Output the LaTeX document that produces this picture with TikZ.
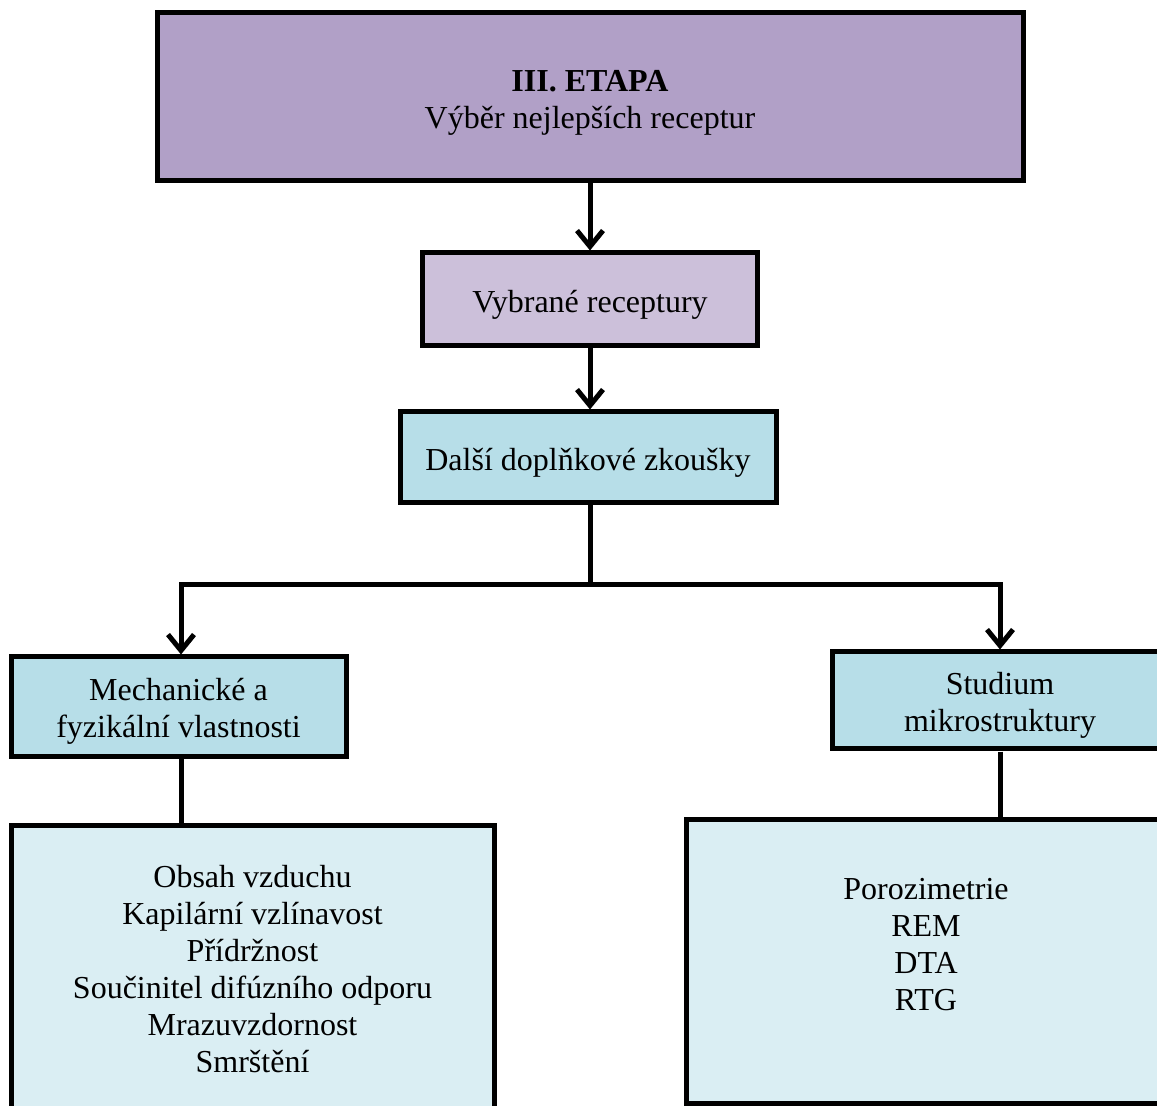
\documentclass[tikz,border=0pt]{standalone}
\usepackage{fontspec}
\setmainfont{Liberation Serif}
\usetikzlibrary{arrows.meta}
\definecolor{etapa}{HTML}{B1A0C7}
\definecolor{vybr}{HTML}{CCC0DA}
\definecolor{zkous}{HTML}{B7DEE8}
\definecolor{seznam}{HTML}{DAEEF3}
\newcommand{\nahoru}{\rule{0pt}{16pt}}
\tikzset{
  popis/.style={align=center, inner sep=0pt, font=\fontsize{16}{18.5}\selectfont},
  box/.style={popis, draw, line width=2.5pt, rectangle},
  spoj/.style={line width=2.5pt},
  sipka/.style={spoj, -{Straight Barb[length=8pt,width=13pt,line width=2.5pt]}}
}
\begin{document}
\begin{tikzpicture}[x=0.5pt,y=-0.5pt]
\useasboundingbox (0,0) rectangle (1157,1106);
\clip (0,0) rectangle (1157,1106);
\node[box, fill=etapa, minimum width=433pt, minimum height=84pt] (etapa) at (590,97)
  {\nahoru\textbf{III. ETAPA}\\Výběr nejlepších receptur};
\node[box, fill=vybr, minimum width=167.5pt, minimum height=46.5pt] (vybr) at (590,299.5)
  {\nahoru Vybrané receptury};
\node[box, fill=zkous, minimum width=188pt, minimum height=45.5pt] (dalsi) at (588,457.5)
  {\nahoru Další doplňkové zkoušky};
\node[box, fill=zkous, minimum width=167.5pt, minimum height=49.5pt] (mech) at (178.5,706.5)
  {\nahoru Mechanické a\\fyzikální vlastnosti};
\node[box, fill=zkous, minimum width=168pt, minimum height=48.5pt] (stud) at (1000,700.5)
  {\nahoru Studium\\mikrostruktury};
% bottom boxes, text set apart
\node[box, fill=seznam, minimum width=241.5pt, minimum height=147.5pt] (lseznam) at (252.5,972.5) {};
\node[box, fill=seznam, minimum width=240pt, minimum height=142pt] (pseznam) at (926,961) {};
\node[popis] (ltext) at (252.5,969)
  {Obsah vzduchu\\Kapilární vzlínavost\\Přídržnost\\Součinitel difúzního odporu\\Mrazuvzdornost\\Smrštění};
\node[popis] (ptext) at (926,945)
  {Porozimetrie\\REM\\DTA\\RTG};
% connectors
\coordinate (rozdel) at (590,585);
\draw[sipka] (etapa.south -| vybr.north) -- (vybr.north);
\draw[sipka] (vybr.south) -- (vybr.south |- dalsi.north);
\draw[spoj] (rozdel |- dalsi.south) -- (rozdel);
\draw[sipka] (rozdel) -| (181,0 |- mech.north);
\draw[sipka] (rozdel) -| (stud.north);
\draw[spoj] (181,0 |- mech.south) -- (181,0 |- lseznam.north);
\draw[spoj] (stud.south) -- (stud.south |- pseznam.north);
\end{tikzpicture}
\end{document}
